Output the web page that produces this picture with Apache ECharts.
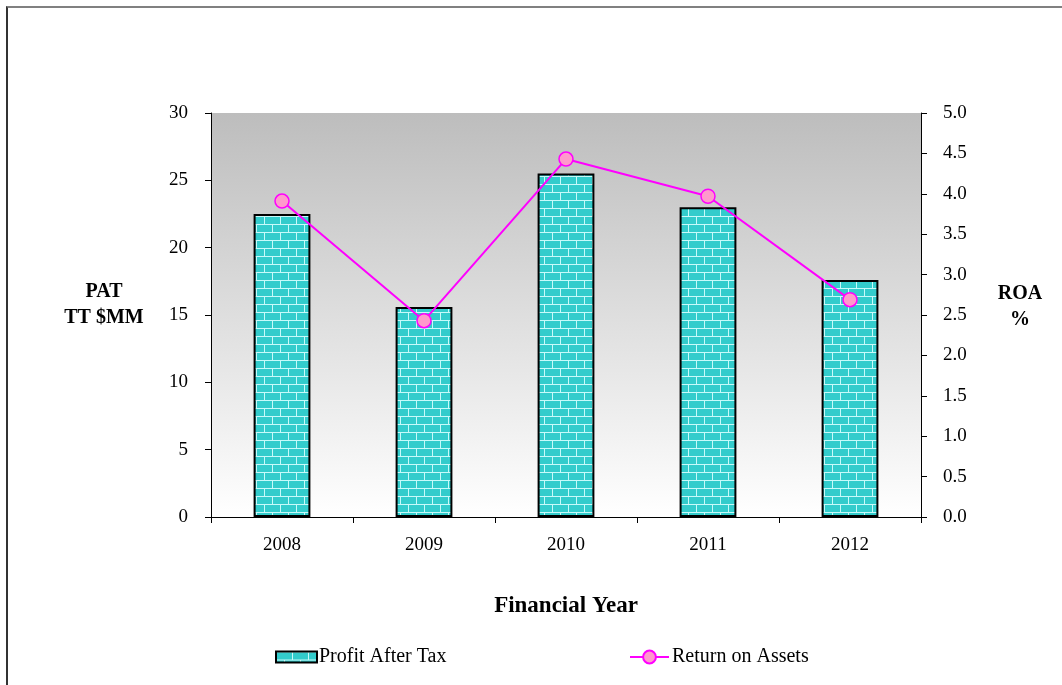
<!DOCTYPE html>
<html>
<head>
<meta charset="utf-8">
<script src="https://cdn.jsdelivr.net/npm/echarts@6/dist/echarts.min.js"></script>
<style>
html, body { margin: 0; padding: 0; background: #fff; }
#main { position: absolute; left: 0; top: 0; width: 1062px; height: 685px; }
#frame { position: absolute; left: 6px; top: 6px; right: 0; bottom: 0;
  border-top: 2px solid #808080; border-left: 2px solid #333; pointer-events: none; }
</style>
</head>
<body>
<div id="main"></div>
<div id="frame"></div>
<script>
// chart data
var years = ['2008', '2009', '2010', '2011', '2012'];
var profitAfterTax = [22.5, 15.6, 25.5, 23.0, 17.6];
var returnOnAssets = [3.91, 2.43, 4.43, 3.97, 2.69];

// brick fill for the bars
function brickPattern() {
    var c = document.createElement('canvas');
    c.width = 16;
    c.height = 16;
    var ctx = c.getContext('2d');
    ctx.fillStyle = '#33cccc';
    ctx.fillRect(0, 0, 16, 16);
    ctx.fillStyle = '#c8fafa';
    ctx.fillRect(0, 0, 16, 1);
    ctx.fillRect(0, 8, 16, 1);
    ctx.fillRect(0, 0, 1, 8);
    ctx.fillRect(8, 8, 1, 8);
    return c;
}

var font = '"Liberation Serif", "DejaVu Serif", serif';

function loadChart(id, option) {
    var myChart = echarts.init(document.getElementById(id));
    myChart.setOption(option);
    return myChart;
}

var option = {
    animation: false,
    textStyle: { fontFamily: font, color: '#000' },
    grid: {
        left: 211, right: 141, top: 113, bottom: 168,
        show: true,
        borderWidth: 0,
        backgroundColor: new echarts.graphic.LinearGradient(0, 0, 0, 1, [
            { offset: 0, color: '#bdbdbd' },
            { offset: 1, color: '#ffffff' }
        ])
    },
    legend: [{
        top: 647,
        left: 275,
        padding: 0,
        icon: 'rect',
        itemWidth: 41,
        itemHeight: 11,
        textStyle: { fontFamily: font, fontSize: 20, color: '#000', padding: [0, 0, 0, -3] },
        data: ['Profit After Tax']
    }, {
        top: 647,
        left: 629,
        padding: 0,
        itemWidth: 39,
        itemHeight: 16,
        textStyle: { fontFamily: font, fontSize: 20, color: '#000', padding: [0, 0, 0, -2] },
        data: ['Return on Assets']
    }],
    xAxis: {
        type: 'category',
        data: years,
        name: 'Financial Year',
        nameLocation: 'middle',
        nameGap: 78,
        nameTextStyle: { fontFamily: font, fontSize: 23, fontWeight: 'bold', color: '#000' },
        axisLine: { lineStyle: { color: '#000', width: 1 } },
        axisTick: { show: true, length: 6, lineStyle: { color: '#000' } },
        axisLabel: { fontSize: 19, margin: 19, color: '#000' }
    },
    yAxis: [{
        type: 'value',
        min: 0, max: 30, interval: 5,
        axisLine: { show: true, lineStyle: { color: '#000' } },
        axisTick: { show: true, length: 6, lineStyle: { color: '#000' } },
        axisLabel: { fontSize: 19, margin: 23, color: '#000' },
        splitLine: { show: false }
    }, {
        type: 'value',
        min: 0, max: 5, interval: 0.5,
        position: 'right',
        axisLine: { show: true, lineStyle: { color: '#000' } },
        axisTick: { show: true, length: 6, lineStyle: { color: '#000' } },
        axisLabel: { fontSize: 19, margin: 22, color: '#000',
            formatter: function (v) { return v.toFixed(1); } },
        splitLine: { show: false }
    }],
    graphic: [{
        type: 'text', x: 104, y: 282,
        style: { text: 'PAT', align: 'center', font: 'bold 20px ' + font, fill: '#000' }
    }, {
        type: 'text', x: 104, y: 308,
        style: { text: 'TT $MM', align: 'center', font: 'bold 20px ' + font, fill: '#000' }
    }, {
        type: 'text', x: 1020, y: 284,
        style: { text: 'ROA', align: 'center', font: 'bold 20px ' + font, fill: '#000' }
    }, {
        type: 'text', x: 1020, y: 310,
        style: { text: '%', align: 'center', font: 'bold 20px ' + font, fill: '#000' }
    }],
    series: [{
        name: 'Profit After Tax',
        type: 'bar',
        data: profitAfterTax,
        barWidth: '40%',
        itemStyle: {
            color: { image: brickPattern(), repeat: 'repeat' },
            borderColor: '#000',
            borderWidth: 2
        }
    }, {
        name: 'Return on Assets',
        type: 'line',
        yAxisIndex: 1,
        data: returnOnAssets,
        symbol: 'circle',
        symbolSize: 14,
        lineStyle: { color: '#ff00ff', width: 2 },
        itemStyle: { color: '#ff99cc', borderColor: '#ff00ff', borderWidth: 1.5 }
    }]
};

loadChart('main', option);
</script>
</body>
</html>
